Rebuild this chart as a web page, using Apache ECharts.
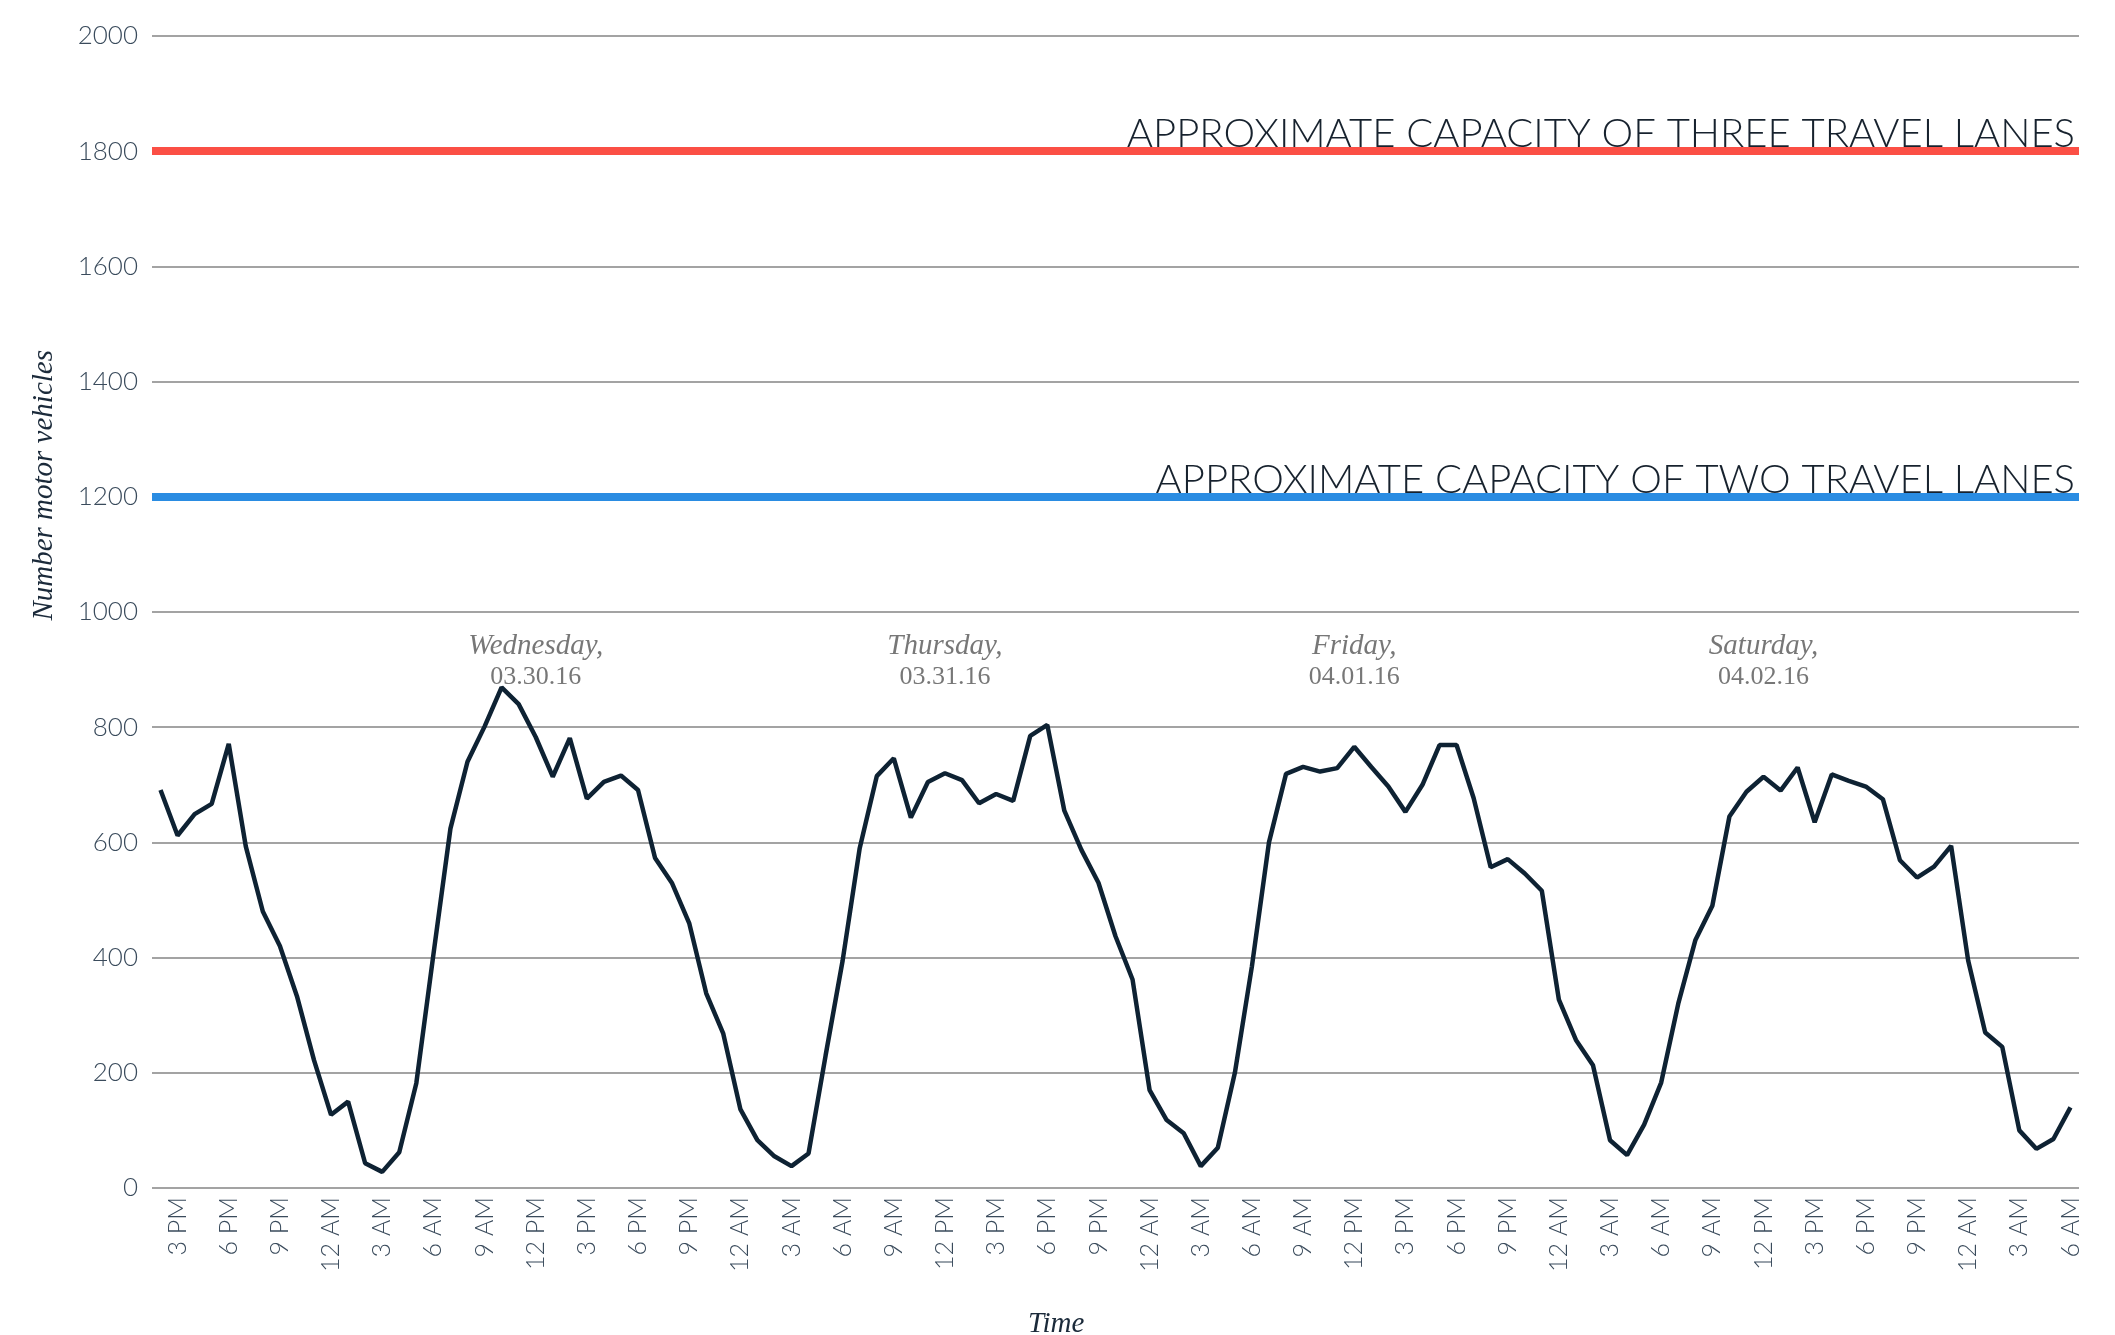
<!DOCTYPE html>
<html><head><meta charset="utf-8">
<script src="https://cdn.jsdelivr.net/npm/echarts@6.0.0/dist/echarts.min.js"></script>
<style>html,body{margin:0;padding:0;background:#fff}#c{width:2115px;height:1335px}</style>
</head><body><div id="c"></div>
<script>
// Hourly categories: Tue 03.29.16 2 PM through Sun 04.03.16 6 AM
const startHour = 14;
const hourCount = 113;
const hourCategories = [];
for (let i = 0; i < hourCount; i++) {
  const h = (startHour + i) % 24;
  const h12 = h % 12 === 0 ? 12 : h % 12;
  hourCategories.push(h12 + (h < 12 ? ' AM' : ' PM'));
}

// Number of motor vehicles per hour
const vehicleCounts = [
  691, 612, 649, 667, 771, 593, 480, 420, 333, 222, 127, 150, 43, 28, 62, 182,
  405, 624, 740, 801, 869, 840, 783, 714, 781, 676, 705, 716, 691, 573, 529, 460,
  338, 268, 137, 83, 55, 38, 60, 230, 395, 590, 715, 746, 643, 705, 720, 708,
  668, 684, 672, 785, 804, 655, 587, 530, 437, 362, 170, 118, 95, 38, 70, 200,
  385, 600, 719, 731, 723, 729, 766, 731, 697, 653, 700, 769, 769, 677, 557, 571,
  546, 516, 327, 257, 213, 83, 57, 110, 183, 320, 430, 490, 645, 688, 714, 690,
  730, 635, 718, 707, 697, 675, 569, 539, 558, 594, 395, 270, 245, 100, 68, 85, 140
];

// Capacity reference lines
const capacityValues = [1800, 1200];
const capacityLabels = ['APPROXIMATE CAPACITY OF THREE TRAVEL LANES', 'APPROXIMATE CAPACITY OF TWO TRAVEL LANES'];
const capacityColors = ['#fb4f45', '#2a8ce2'];

// Day annotations (placed at noon of each day)
const dayNames = ['Wednesday,', 'Thursday,', 'Friday,', 'Saturday,'];
const dayDates = ['03.30.16', '03.31.16', '04.01.16', '04.02.16'];
const dayNoonIndex = [22, 46, 70, 94];
const dayLabelLevel = 913;

const yTicks = { min: 0, max: 2000, interval: 200 };

const chart = echarts.init(document.getElementById('c'));
const tickFont = 'Lato';
const tickColor = '#3a4b5c';

chart.setOption({
  animation: false,
  backgroundColor: '#ffffff',
  grid: { left: 152, right: 36, top: 36, bottom: 147 },
  xAxis: {
    type: 'category',
    data: hourCategories,
    boundaryGap: true,
    axisLine: { show: false },
    axisTick: { show: false },
    axisLabel: {
      interval: (i) => i % 3 === 1,
      rotate: 90,
      margin: 9,
      color: tickColor,
      fontFamily: tickFont,
      fontWeight: 300,
      fontSize: 25
    },
    splitLine: { show: false }
  },
  yAxis: {
    type: 'value',
    min: yTicks.min, max: yTicks.max, interval: yTicks.interval,
    axisLine: { show: false },
    axisTick: { show: false },
    axisLabel: { margin: 14, color: tickColor, fontFamily: tickFont, fontWeight: 300, fontSize: 26,
      formatter: (v) => String(v) },
    splitLine: { lineStyle: { color: '#858585', width: 1.5 } }
  },
  graphic: [
    { type: 'text', left: 30, top: 350, rotation: Math.PI / 2, originX: 0, originY: 0,
      style: { text: 'Number motor vehicles', fill: '#1b2a3a', font: 'italic 29px "Liberation Serif"' } },
    { type: 'text', left: 1028, top: 1310,
      style: { text: 'Time', fill: '#1b2a3a', font: 'italic 29px "Liberation Serif"' } }
  ],
  series: [
    {
      type: 'line',
      data: vehicleCounts,
      symbol: 'none',
      lineStyle: { color: '#0e2233', width: 4.5 },
      z: 5,
      markLine: {
        silent: true,
        symbol: ['none', 'none'],
        data: capacityValues.map((v, i) => ({
          yAxis: v,
          lineStyle: { color: capacityColors[i], width: 8, type: 'solid' },
          label: {
            show: true, position: 'insideEndTop', distance: [4, -3],
            formatter: capacityLabels[i],
            color: '#17222e', fontFamily: tickFont, fontWeight: 300, fontSize: 40
          }
        }))
      }
    },
    {
      type: 'scatter',
      symbolSize: 0,
      silent: true,
      data: dayNoonIndex.map((idx, i) => [idx, dayLabelLevel]),
      label: {
        show: true,
        position: 'inside',
        formatter: (p) => '{a|' + dayNames[p.dataIndex] + '}\n{b|' + dayDates[p.dataIndex] + '}',
        rich: {
          a: { fontFamily: 'Liberation Serif', fontStyle: 'italic', fontSize: 29, color: '#555555', lineHeight: 31, align: 'center' },
          b: { fontFamily: 'Liberation Serif', fontSize: 26, color: '#555555', lineHeight: 31, align: 'center' }
        }
      }
    }
  ]
});
</script>
</body></html>
